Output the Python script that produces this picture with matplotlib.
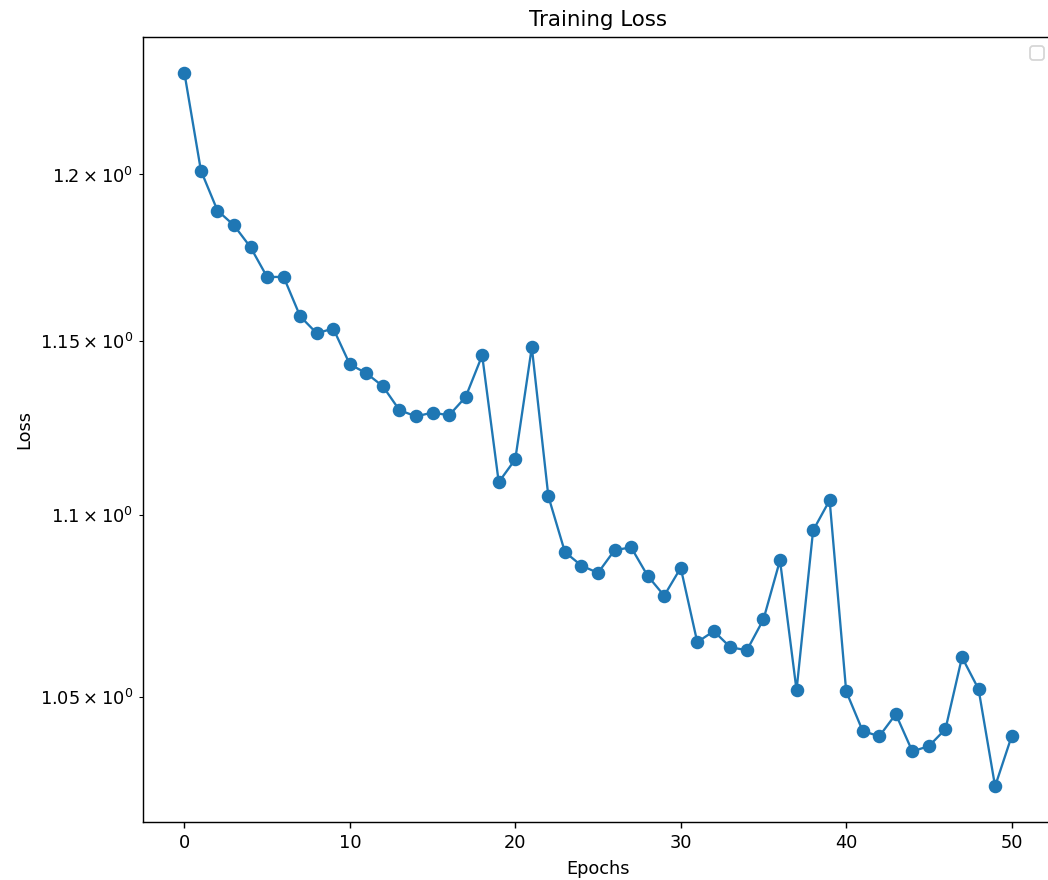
import matplotlib
matplotlib.use("Agg")
import matplotlib.pyplot as plt

epochs = list(range(51))
loss = [
    1.2316, 1.2012, 1.1890, 1.1845, 1.1779, 1.1690, 1.1690, 1.1573, 1.1523, 1.1537,
    1.1432, 1.1406, 1.1368, 1.1299, 1.1281, 1.1292, 1.1284, 1.1337, 1.1458, 1.1093,
    1.1158, 1.1482, 1.1053, 1.0897, 1.0859, 1.0839, 1.0902, 1.0910, 1.0831, 1.0776,
    1.0853, 1.0649, 1.0679, 1.0635, 1.0627, 1.0711, 1.0874, 1.0519, 1.0957, 1.1042,
    1.0516, 1.0410, 1.0396, 1.0455, 1.0356, 1.0370, 1.0415, 1.0608, 1.0522, 1.0264,
    1.0396,
]

W, H = 1048, 880
dpi = 128
fig = plt.figure(figsize=(W / dpi, H / dpi), dpi=dpi)
ax = fig.add_axes([143 / W, 1 - 822 / H, (1053 - 143) / W, (822 - 37) / H])

ax.plot(epochs, loss, marker="o", markersize=6.6, color="#1f77b4", linewidth=1.3)
ax.set_yscale("log")
ax.set_title("Training Loss")
ax.set_xlabel("Epochs")
ax.set_ylabel("Loss")
ax.legend(handles=[], loc="upper right")

fig.savefig("out.png", dpi=dpi)
